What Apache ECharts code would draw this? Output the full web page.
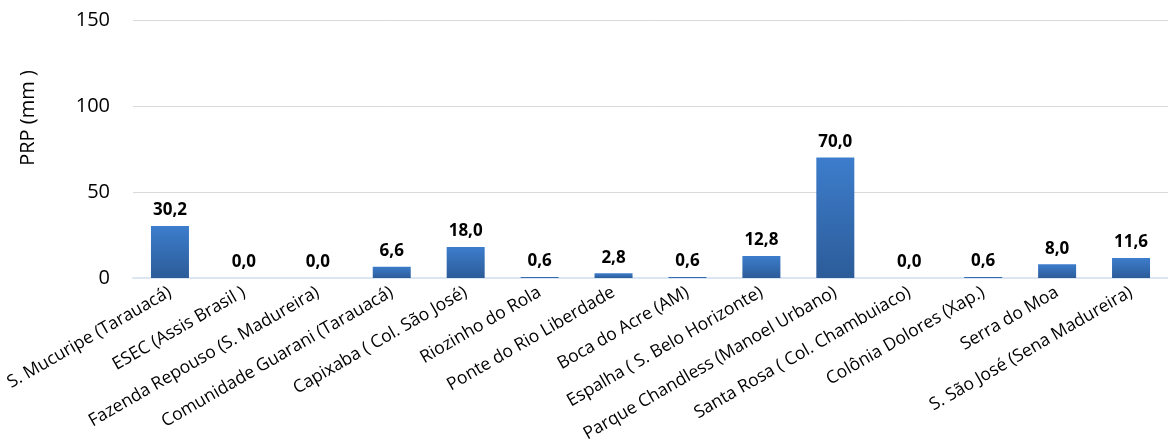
<!DOCTYPE html>
<html><head><meta charset="utf-8">
<script src="https://cdn.jsdelivr.net/npm/echarts@6/dist/echarts.min.js"></script>
<style>html,body{margin:0;padding:0;background:#fff}#c{width:1168px;height:447px}</style>
</head><body><div id="c"></div>
<script>
const categories = ["S. Mucuripe (Tarauacá)","ESEC (Assis Brasil )","Fazenda Repouso (S. Madureira)","Comunidade Guarani (Tarauacá)","Capixaba ( Col. São José)","Riozinho do Rola","Ponte do Rio Liberdade","Boca do Acre (AM)","Espalha ( S. Belo Horizonte)","Parque Chandless (Manoel Urbano)","Santa Rosa ( Col. Chambuiaco)","Colônia Dolores (Xap.)","Serra do Moa","S. São José (Sena Madureira)"];
const values = [30.2,0.0,0.0,6.6,18.0,0.6,2.8,0.6,12.8,70.0,0.0,0.6,8.0,11.6];
const yTicks = [0,50,100,150];
const yName = 'PRP (mm )';
const font = '"Open Sans", sans-serif';
const chart = echarts.init(document.getElementById('c'));
chart.setOption({
  animation:false,
  grid:{left:133,top:20,width:1048,bottom:169,containLabel:false},
  graphic:[{type:'text',x:28,y:118,rotation:Math.PI/2,
    style:{text:yName,fontSize:20,fontFamily:font,fill:'#000',textAlign:'center',textVerticalAlign:'middle'}}],
  xAxis:{type:'category',data:categories,
    axisLine:{lineStyle:{color:'#dce6f2',width:2}},axisTick:{show:false},
    axisLabel:{interval:0,rotate:30,fontSize:17.5,color:'#000',fontFamily:font,margin:13}},
  yAxis:{type:'value',min:yTicks[0],max:yTicks[yTicks.length-1],interval:50,
    axisLabel:{fontSize:20,color:'#000',fontFamily:font,margin:23},
    axisLine:{show:false},axisTick:{show:false},
    splitLine:{lineStyle:{color:'#d9d9d9',width:1}}},
  series:[{type:'bar',data:values,barWidth:38,
    itemStyle:{color:new echarts.graphic.LinearGradient(0,0,0,1,[{offset:0,color:'#3d7dcc'},{offset:1,color:'#2c5c99'}])},
    label:{show:true,position:'top',distance:7,fontSize:17,fontWeight:'bold',color:'#000',fontFamily:font,
      formatter:p=>p.value.toFixed(1).replace('.',',')}}]
});
</script></body></html>
